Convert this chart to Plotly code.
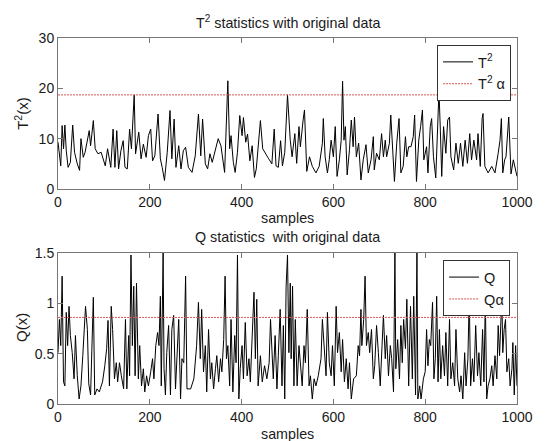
import plotly.graph_objects as go

# ---------------- data ----------------
t2_samples = [0, 3, 6, 9, 12, 15, 18, 22, 27, 32, 36, 42, 47, 50, 55, 59, 62, 68, 71, 77,
              81, 87, 94, 103, 108, 115, 120, 124, 128, 132, 137, 142, 146, 151, 156, 160, 166, 169, 176, 181,
              186, 192, 197, 202, 206, 211, 218, 223, 227, 232, 238, 244, 248, 253, 257, 263, 268, 273, 278, 284,
              292, 299, 306, 311, 315, 321, 326, 331, 336, 342, 349, 355, 360, 363, 370, 374, 377, 382, 386, 391,
              396, 401, 404, 409, 413, 418, 423, 428, 432, 437, 441, 446, 452, 459, 466, 471, 475, 480, 485, 489,
              494, 497, 500, 506, 510, 516, 520, 525, 528, 534, 537, 542, 548, 554, 562, 569, 576, 578, 582, 587,
              591, 595, 600, 604, 608, 613, 617, 620, 623, 626, 630, 635, 639, 643, 646, 650, 655, 660, 665, 671,
              676, 682, 687, 689, 694, 700, 705, 709, 713, 716, 722, 725, 730, 733, 738, 743, 747, 752, 757, 760,
              764, 769, 774, 777, 781, 786, 790, 794, 797, 803, 806, 811, 814, 818, 823, 827, 830, 833, 836, 840,
              845, 849, 853, 856, 862, 867, 872, 877, 882, 887, 892, 897, 901, 906, 912, 915, 920, 924, 926, 930,
              937, 945, 952, 959, 963, 966, 969, 973, 976, 982, 984, 987, 992, 995, 1000]
t2_values = [9.3, 6.6, 4.6, 12.6, 8.0, 12.7, 7.6, 4.3, 5.3, 12.7, 7.3, 5.0, 3.7, 10.0, 6.3, 7.3, 8.6, 11.6, 8.6, 13.6,
             8.0, 7.0, 7.3, 4.6, 8.0, 4.3, 11.9, 4.3, 11.6, 4.0, 7.6, 9.6, 4.3, 4.0, 11.9, 8.0, 18.7, 7.0, 11.3, 6.0,
             8.9, 6.3, 10.6, 11.9, 5.6, 6.6, 14.9, 6.0, 4.3, 1.7, 7.3, 15.6, 6.0, 13.9, 4.3, 8.6, 4.0, 7.6, 8.3, 4.3,
             3.3, 6.6, 14.9, 6.6, 13.9, 5.0, 4.0, 7.0, 5.3, 7.6, 10.0, 8.6, 5.3, 3.3, 21.5, 8.0, 10.6, 5.3, 3.3, 7.3,
             14.6, 10.6, 14.2, 9.3, 10.9, 5.6, 8.6, 2.3, 4.0, 8.6, 13.6, 8.0, 7.0, 6.0, 5.0, 11.9, 4.6, 4.3, 9.6, 4.6,
             7.3, 13.2, 18.7, 9.7, 6.4, 11.0, 5.1, 12.4, 8.4, 13.7, 15.7, 3.5, 6.4, 4.5, 3.2, 4.5, 9.1, 14.0, 6.4, 3.2,
             5.8, 9.7, 6.4, 12.4, 2.5, 5.8, 9.7, 21.4, 9.7, 12.4, 2.8, 7.8, 13.7, 8.4, 14.3, 6.4, 9.1, 1.8, 5.8, 8.8,
             3.2, 5.8, 10.4, 3.8, 7.1, 5.8, 11.0, 6.4, 9.7, 6.4, 9.1, 14.7, 5.8, 1.5, 9.1, 14.0, 3.2, 4.5, 10.4, 6.4,
             8.4, 8.4, 10.4, 14.7, 1.5, 9.7, 12.4, 15.7, 5.8, 8.4, 3.2, 12.4, 14.0, 6.4, 2.2, 12.4, 19.5, 11.7, 2.5, 12.4,
             7.1, 13.7, 14.3, 6.4, 3.8, 9.1, 5.1, 9.1, 4.5, 9.7, 5.1, 11.0, 5.8, 9.7, 5.8, 11.0, 4.5, 14.0, 15.0, 4.5,
             3.2, 4.5, 3.2, 7.1, 9.7, 14.0, 3.2, 5.8, 6.4, 14.3, 8.4, 3.0, 5.8, 4.5, 2.5]

q_samples = [0, 3, 6, 9, 12, 15, 18, 21, 24, 27, 31, 35, 38, 42, 46, 50, 54, 57, 60, 64,
             67, 71, 77, 80, 85, 90, 97, 102, 106, 109, 112, 116, 119, 123, 127, 130, 134, 138, 143, 147,
             150, 154, 156, 159, 162, 165, 168, 171, 175, 178, 182, 186, 189, 193, 197, 202, 206, 209, 213, 217,
             220, 223, 225, 229, 231, 234, 237, 241, 245, 248, 252, 256, 259, 263, 267, 270, 274, 278, 281, 289,
             296, 302, 306, 310, 313, 317, 321, 324, 328, 332, 335, 339, 343, 346, 350, 354, 357, 361, 364, 367,
             370, 374, 377, 381, 385, 388, 391, 394, 397, 401, 404, 408, 412, 416, 419, 423, 427, 430, 433, 436,
             441, 445, 450, 455, 460, 463, 466, 469, 473, 477, 480, 484, 488, 491, 494, 497, 500, 503, 506, 508,
             511, 514, 517, 521, 525, 528, 532, 536, 539, 543, 547, 550, 554, 558, 562, 567, 573, 576, 580, 584,
             587, 591, 595, 598, 602, 606, 609, 613, 617, 620, 624, 628, 632, 635, 639, 644, 650, 654, 657, 660,
             662, 666, 669, 672, 676, 679, 683, 687, 690, 694, 698, 702, 706, 709, 713, 716, 720, 724, 727, 731,
             734, 736, 740, 744, 747, 750, 753, 757, 760, 764, 768, 772, 775, 779, 782, 784, 788, 791, 796, 800,
             803, 806, 809, 812, 816, 819, 822, 825, 828, 831, 834, 838, 842, 845, 849, 853, 856, 860, 864, 867,
             871, 875, 878, 882, 886, 889, 893, 896, 899, 903, 906, 910, 914, 917, 921, 925, 928, 931, 934, 937,
             941, 945, 948, 952, 956, 959, 962, 965, 967, 969, 972, 975, 978, 982, 985, 989, 991, 994, 997, 1000]
q_values = [0.51, 0.84, 0.58, 1.27, 0.22, 0.18, 0.91, 0.58, 0.97, 0.68, 0.51, 0.25, 0.68, 0.28, 0.05, 0.18, 0.48, 0.68, 0.97, 0.74,
            0.20, 0.09, 1.06, 0.09, 0.15, 0.12, 0.22, 0.38, 0.55, 0.83, 0.18, 0.97, 0.74, 0.25, 0.41, 0.22, 0.41, 0.28, 0.15, 0.84,
            0.15, 0.68, 0.28, 1.48, 0.58, 1.17, 0.28, 1.20, 0.25, 0.58, 0.18, 0.35, 0.12, 0.28, 0.18, 0.32, 0.45, 0.25, 0.58, 0.71,
            0.58, 1.07, 0.18, 1.50, 0.35, 0.09, 0.51, 0.78, 0.09, 0.74, 0.88, 0.15, 0.51, 0.84, 0.05, 0.45, 0.41, 1.27, 0.15, 0.15,
            0.25, 0.58, 1.01, 0.45, 0.94, 0.32, 0.58, 0.12, 0.74, 0.25, 0.41, 0.15, 0.35, 0.48, 0.22, 0.45, 0.32, 0.64, 1.27, 0.45,
            0.58, 0.18, 0.84, 0.12, 0.68, 0.41, 1.48, 0.05, 0.35, 0.58, 0.25, 0.81, 0.28, 0.45, 0.22, 0.74, 1.11, 0.45, 1.04, 0.18,
            0.48, 0.22, 0.38, 0.25, 0.41, 0.84, 0.45, 0.25, 0.68, 0.15, 0.48, 0.94, 0.18, 0.78, 0.05, 1.17, 1.48, 0.51, 1.20, 0.45,
            1.17, 0.18, 0.84, 0.18, 0.58, 0.38, 0.18, 0.58, 0.41, 0.94, 0.18, 0.28, 0.05, 0.25, 0.18, 0.28, 0.45, 0.84, 0.55, 0.28,
            0.91, 0.41, 0.28, 0.58, 0.18, 0.97, 0.51, 0.71, 0.32, 0.64, 0.22, 0.45, 0.15, 0.41, 0.05, 0.25, 0.28, 0.58, 0.48, 0.94,
            0.58, 0.84, 1.27, 0.58, 0.71, 0.51, 0.74, 0.25, 0.38, 0.78, 0.51, 0.18, 0.58, 0.88, 0.45, 0.68, 0.28, 0.58, 0.45, 0.12,
            1.50, 0.35, 0.64, 0.25, 0.78, 0.41, 0.84, 0.55, 1.04, 0.18, 0.97, 0.25, 1.07, 0.09, 1.50, 0.05, 0.18, 0.05, 0.25, 0.32,
            0.74, 0.38, 0.64, 0.58, 1.01, 0.25, 0.45, 1.07, 0.22, 0.74, 0.25, 0.58, 0.28, 0.71, 0.18, 0.84, 0.25, 0.41, 0.18, 0.74,
            0.25, 0.12, 0.28, 0.05, 0.51, 0.18, 0.45, 1.07, 0.18, 0.45, 0.22, 0.78, 0.28, 0.51, 0.18, 0.74, 0.22, 1.04, 0.05, 0.18,
            0.25, 0.38, 0.18, 0.48, 0.25, 0.78, 0.48, 0.88, 1.07, 0.51, 0.74, 0.84, 0.32, 0.45, 0.18, 0.35, 0.61, 0.09, 0.58, 0.18]

t2_limit = 18.7
q_limit = 0.86
x_range = [0, 1000]
x_ticks = [0, 200, 400, 600, 800, 1000]
t2_ticks = [0, 10, 20, 30]
q_ticks = [0, 0.5, 1, 1.5]
q_tick_text = ["0", "0.5", "1", "1.5"]

FONT = "Liberation Sans, Arial, Helvetica, sans-serif"
AX = "#777777"
RED = "#dd5555"
TXT = "#1a1a1a"

fig = go.Figure()
fig.add_trace(go.Scatter(x=t2_samples, y=t2_values, mode="lines", name="T<sup>2</sup>",
                         line=dict(color="black", width=1), xaxis="x", yaxis="y", legend="legend"))
fig.add_trace(go.Scatter(x=x_range, y=[t2_limit, t2_limit], mode="lines", name="T<sup>2</sup> α",
                         line=dict(color=RED, width=1, dash="2px,1px"), xaxis="x", yaxis="y", legend="legend"))
fig.add_trace(go.Scatter(x=q_samples, y=q_values, mode="lines", name="Q",
                         line=dict(color="black", width=1), xaxis="x2", yaxis="y2", legend="legend2"))
fig.add_trace(go.Scatter(x=x_range, y=[q_limit, q_limit], mode="lines", name="Qα",
                         line=dict(color=RED, width=1, dash="2px,1px"), xaxis="x2", yaxis="y2", legend="legend2"))

axis_common = dict(showline=True, linecolor=AX, linewidth=1, mirror="ticks", ticks="inside",
                   ticklen=5, tickcolor=AX, showgrid=False, zeroline=False,
                   tickfont=dict(family=FONT, size=14, color=TXT))

fig.update_layout(
    width=545, height=441,
    margin=dict(l=58, r=16, t=38, b=37),
    paper_bgcolor="white", plot_bgcolor="white",
    font=dict(family=FONT, size=14, color=TXT),
    xaxis=dict(domain=[0, 1], range=x_range, tickvals=x_ticks, anchor="y", **axis_common),
    yaxis=dict(domain=[0.5874, 1], range=[0, 30], tickvals=t2_ticks, anchor="x", **axis_common),
    xaxis2=dict(domain=[0, 1], range=x_range, tickvals=x_ticks, anchor="y2", **axis_common),
    yaxis2=dict(domain=[0, 0.4126], range=[0, 1.5], tickvals=q_ticks, ticktext=q_tick_text,
                anchor="x2", **axis_common),
    legend=dict(x=0.987, y=0.981, xanchor="right", yanchor="top", bgcolor="white",
                bordercolor="#333333", borderwidth=1, font=dict(family=FONT, size=14.5, color=TXT),
                itemwidth=30, traceorder="normal"),
    legend2=dict(x=0.985, y=0.393, xanchor="right", yanchor="top", bgcolor="white",
                 bordercolor="#333333", borderwidth=1, font=dict(family=FONT, size=14.5, color=TXT),
                 itemwidth=30, traceorder="normal", tracegroupgap=0),
    showlegend=True,
)

ann = dict(xref="paper", yref="paper", showarrow=False, font=dict(family=FONT, size=14.3, color=TXT))
fig.add_annotation(text="T<sup>2</sup> statistics with original data", x=0.5, y=1.044,
                   xanchor="center", yanchor="middle", **ann)
fig.add_annotation(text="samples", x=0.5, y=0.508, xanchor="center", yanchor="middle", **ann)
fig.add_annotation(text="Q statistics  with original data", x=0.5, y=0.456,
                   xanchor="center", yanchor="middle", **ann)
fig.add_annotation(text="samples", x=0.5, y=-0.082, xanchor="center", yanchor="middle", **ann)
ann_y = dict(ann, font=dict(family=FONT, size=15, color=TXT))
fig.add_annotation(text="T<sup>2</sup>(x)", x=-0.081, y=0.795, xanchor="center", yanchor="middle",
                   textangle=-90, **ann_y)
fig.add_annotation(text="Q(x)", x=-0.081, y=0.210, xanchor="center", yanchor="middle",
                   textangle=-90, **ann_y)

fig.write_html("out.html")
